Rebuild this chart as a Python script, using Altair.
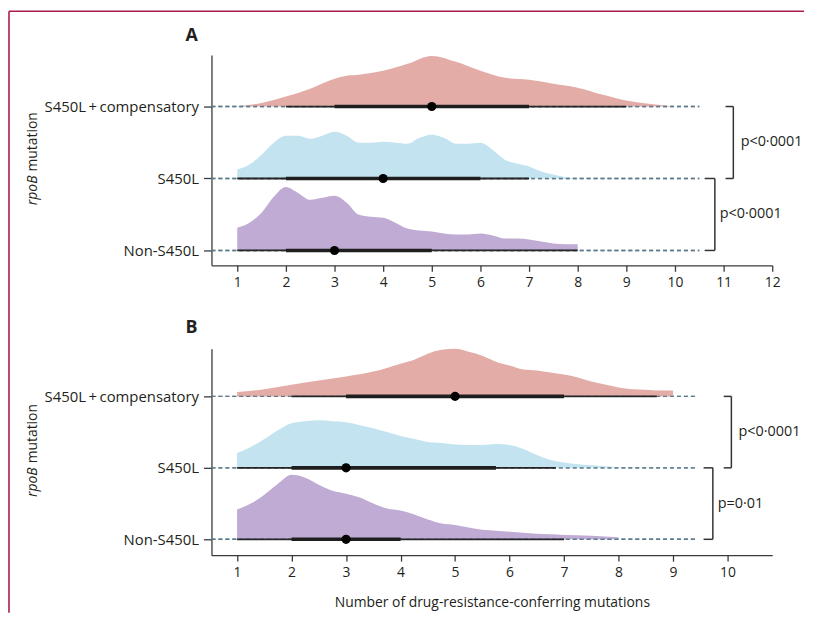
import altair as alt
import pandas as pd

FONT = "Open Sans"
TXT = "#231f20"
AX = "#3a3a3a"

categories = ["Non-S450L", "S450L", "S450L\u2009+\u2009compensatory"]
cat_pos = [0, 1, 2]
fill_colors = ["#bfabd3", "#c2e3ef", "#e3aca6"]

# ---------------- Panel A: ridge heights ----------------
a_non_x = [1, 1.25, 1.5, 1.75, 2, 2.25, 2.5, 2.75, 3, 3.25, 3.5, 3.75, 4, 4.25, 4.5, 4.75,
           5, 5.25, 5.5, 5.75, 6, 6.25, 6.5, 6.75, 7, 7.25, 7.5, 7.75, 8]
a_non_h = [23, 28, 38, 54, 64, 58, 51, 53, 55, 48, 36, 34, 33, 28, 22, 20,
           19, 17, 16, 16, 17, 15, 12, 12, 11, 9, 7, 6.3, 6.3]
a_s450_x = [1, 1.25, 1.5, 1.75, 2, 2.25, 2.5, 2.75, 3, 3.25, 3.5, 3.75, 4, 4.25, 4.5, 4.75,
            5, 5.25, 5.5, 5.75, 6, 6.25, 6.5, 6.75, 7, 7.25, 7.5, 7.75, 8]
a_s450_h = [9, 14, 24, 36, 43, 43, 40, 43, 47, 43, 36, 36, 37, 36, 35, 41,
            44, 41, 35, 35, 36, 29, 19, 15, 12, 7, 4, 1.3, 0.3]
a_comp_x = [1, 1.5, 2, 2.5, 3, 3.25, 3.5, 4, 4.5, 5, 5.5, 6, 6.5, 7, 7.5, 8, 8.5, 9, 9.5, 10]
a_comp_h = [0.3, 3.5, 10, 18, 28, 31, 32, 36, 43, 51, 45, 36, 29, 27, 23, 19, 12, 6, 2.5, 0]

# intervals: [Non-S450L, S450L, S450L+comp]
a_lo_thin = [1, 1, 2]
a_hi_thin = [8, 7, 9]
a_lo_thick = [2, 2, 3]
a_hi_thick = [5, 6, 7]
a_median = [3, 4, 5]

# ---------------- Panel B ----------------
b_non_x = [1, 1.25, 1.5, 1.75, 2, 2.25, 2.5, 2.75, 3, 3.25, 3.5, 3.75, 4, 4.25, 4.5, 4.75,
           5, 5.25, 5.5, 5.75, 6, 6.25, 6.5, 6.75, 7, 7.5, 8]
b_non_h = [30, 36, 45, 56, 65, 62, 55, 49, 46, 42, 36, 31, 29, 25, 20, 16,
           14.5, 12, 9.7, 8.7, 7.7, 6.7, 5.7, 5, 4.3, 3.7, 2]
b_s450_x = [1, 1.25, 1.5, 1.75, 2, 2.25, 2.5, 2.75, 3, 3.25, 3.5, 3.75, 4, 4.25, 4.5, 4.75,
            5, 5.25, 5.5, 5.75, 6, 6.25, 6.5, 6.75, 7, 7.25, 7.5, 7.75, 8]
b_s450_h = [15, 21, 29, 38, 45, 47, 48, 47, 46, 43, 40, 36, 32, 29, 26, 25,
            23.5, 23, 23, 24, 23, 19, 13, 8, 5.3, 3.7, 2.7, 1.7, 0.7]
b_comp_x = [1, 1.5, 2, 2.5, 3, 3.5, 4, 4.25, 4.5, 4.75, 5, 5.25, 5.5, 5.75, 6, 6.25, 6.5,
            6.75, 7, 7.25, 7.5, 7.75, 8, 8.25, 8.5, 8.75, 9]
b_comp_h = [4.3, 7.3, 11.7, 16, 20, 25, 33, 37, 43, 47, 48, 45, 41, 35, 31, 27, 26,
            24, 22, 19, 15, 12, 9, 7.3, 6.7, 6, 6]

b_lo_thin = [1, 1, 2]
b_hi_thin = [7, 6.85, 8.7]
b_lo_thick = [2, 2, 3]
b_hi_thick = [4, 5.75, 7]
b_median = [3, 3, 5]

# p-value annotations
a_pvals = ["p<0\u00b70001", "p<0\u00b70001"]
b_pvals = ["p=0\u00b701", "p<0\u00b70001"]


def make_panel(letter, curves, lo_thin, hi_thin, lo_thick, hi_thick, median, pvals,
               xdomain, xticks, ydomain, ridge_scale, dash_end, brk, title, height):
    W = 565
    xscale = alt.Scale(domain=xdomain, nice=False, zero=False)
    yscale = alt.Scale(domain=ydomain, nice=False, zero=False)

    iv = pd.DataFrame({"cat": categories, "pos": cat_pos, "lo_thin": lo_thin,
                       "hi_thin": hi_thin, "lo_thick": lo_thick, "hi_thick": hi_thick,
                       "med": median, "x0": [xdomain[0]] * 3, "x1": [dash_end] * 3})

    label_expr = " : ".join(
        [f"datum.value == {p} ? '{c}'" for p, c in zip(cat_pos[:-1], categories[:-1])]
    ) + f" : '{categories[-1]}'"

    x_kw = dict(values=xticks, tickSize=6, labelPadding=4, labelFlush=False, grid=False)
    if title:
        x_kw.update(title=title, titlePadding=17)
    else:
        x_kw.update(title=None)
    x_axis = alt.Axis(**x_kw)
    y_axis = alt.Axis(values=cat_pos, labelExpr=label_expr, tickSize=8, labelPadding=5,
                      labelFontSize=15, grid=False, title=None)

    def X(f):
        return alt.X(f, type="quantitative", scale=xscale, axis=x_axis)

    def Y(f):
        return alt.Y(f, type="quantitative", scale=yscale, axis=y_axis)

    base_iv = alt.Chart(iv)
    dash = base_iv.mark_rule(strokeDash=[4, 3], stroke="#5d7d8c", strokeWidth=1.4).encode(
        x=X("x0"), x2="x1:Q", y=Y("pos"))

    areas = []
    for ci, (xs, hs) in enumerate(curves):
        df = pd.DataFrame({"x": xs,
                           "base": [cat_pos[ci]] * len(xs),
                           "top": [cat_pos[ci] + hv * ridge_scale for hv in hs]})
        areas.append(
            alt.Chart(df).mark_area(color=fill_colors[ci], opacity=1,
                                    interpolate="monotone").encode(
                x=X("x"), y=Y("top"), y2="base:Q")
        )

    thin = base_iv.mark_rule(stroke="#262626", strokeWidth=1.8).encode(
        x=X("lo_thin"), x2="hi_thin:Q", y=Y("pos"))
    thick = base_iv.mark_rule(stroke="#1e1e1e", strokeWidth=3.6).encode(
        x=X("lo_thick"), x2="hi_thick:Q", y=Y("pos"))
    pts = base_iv.mark_point(filled=True, color="#000000", size=85, opacity=1).encode(
        x=X("med"), y=Y("pos"))

    # brackets: lower (Non-S450L vs S450L) and upper (S450L vs S450L+comp)
    bv = pd.DataFrame({"x": [brk[0][0], brk[1][0]], "y1": [0, 1], "y2": [1, 2]})
    bh = pd.DataFrame({"xa": [brk[0][1], brk[0][1], brk[1][1], brk[1][1]],
                       "xb": [brk[0][0], brk[0][0], brk[1][0], brk[1][0]],
                       "y": [0, 1, 1, 2]})
    bt = pd.DataFrame({"x": [brk[0][2], brk[1][2]], "y": [0.5, 1.5], "t": pvals})
    brv = alt.Chart(bv).mark_rule(stroke="#333333", strokeWidth=1.5).encode(
        x=X("x"), y=Y("y1"), y2="y2:Q")
    brh = alt.Chart(bh).mark_rule(stroke="#333333", strokeWidth=1.5).encode(
        x=X("xa"), x2="xb:Q", y=Y("y"))
    brt = alt.Chart(bt).mark_text(align="left", baseline="middle", fontSize=14.5,
                                  font=FONT, color=TXT).encode(
        x=X("x"), y=Y("y"), text="t:N")

    one = pd.DataFrame({"k": [0]})
    lab = alt.Chart(one).mark_text(text=letter, fontSize=18, fontWeight="bold", font=FONT,
                                   color=TXT, align="center", baseline="middle").encode(
        x=alt.value(-20), y=alt.value(-19 if letter == "A" else -21))
    anchor_y = height / 2 + 15.5
    yt1 = alt.Chart(one).mark_text(text="rpoB", fontSize=14, fontStyle="italic", font=FONT,
                                   color=TXT, angle=270, align="right",
                                   baseline="middle").encode(
        x=alt.value(-180), y=alt.value(anchor_y))
    yt2 = alt.Chart(one).mark_text(text="mutation", fontSize=14, font=FONT,
                                   color=TXT, angle=270, align="left",
                                   baseline="middle").encode(
        x=alt.value(-180), y=alt.value(anchor_y - 4))

    layers = [dash] + areas + [dash, thin, thick, pts, brv, brh, brt, lab, yt1, yt2]
    return layers, W


layers_a, W = make_panel(
    "A", [(a_non_x, a_non_h), (a_s450_x, a_s450_h), (a_comp_x, a_comp_h)],
    a_lo_thin, a_hi_thin, a_lo_thick, a_hi_thick, a_median, a_pvals,
    [0.47, 12], list(range(1, 13)), [-0.207, 2.717], 1 / 72.5, 10.5,
    [(10.82, 10.61, 10.92), (11.2, 11.04, 11.35)], None, 212)

# Lancet-style frame (top and left border)
one = pd.DataFrame({"k": [0]})
border_top = alt.Chart(one).mark_rule(stroke="#a81c4b", strokeWidth=1.6).encode(
    x=alt.value(-204), x2=alt.value(597), y=alt.value(-44))
border_left = alt.Chart(one).mark_rule(stroke="#a81c4b", strokeWidth=1.6).encode(
    x=alt.value(-204), y=alt.value(-44), y2=alt.value(562))
layers_a += [border_top, border_left]

top = alt.layer(*layers_a).properties(width=W, height=212)

layers_b, W = make_panel(
    "B", [(b_non_x, b_non_h), (b_s450_x, b_s450_h), (b_comp_x, b_comp_h)],
    b_lo_thin, b_hi_thin, b_lo_thick, b_hi_thick, b_median, b_pvals,
    [0.53, 10.82], list(range(1, 11)), [-0.222, 2.667], 1 / 72, 9.45,
    [(9.73, 9.56, 9.82), (10.07, 9.93, 10.2)],
    "Number of drug-resistance-conferring mutations", 208)
bottom = alt.layer(*layers_b).properties(width=W, height=208)

chart = (
    alt.vconcat(top, bottom, spacing=84, bounds="flush")
    .properties(padding=0, background="white")
    .configure(font=FONT)
    .configure_view(stroke=None)
    .configure_axis(labelFont=FONT, labelFontSize=14, labelColor=TXT,
                    titleFont=FONT, titleFontSize=14, titleFontWeight="normal",
                    titleColor=TXT, domainColor=AX, tickColor=AX,
                    domainWidth=1.3, tickWidth=1.3)
)

chart.save("out.html", embed_options={"renderer": "svg", "actions": False})
